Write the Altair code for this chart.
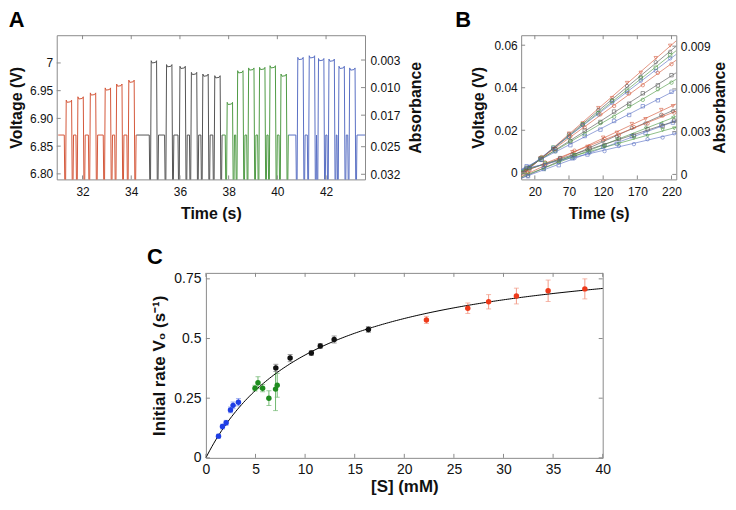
import altair as alt
import pandas as pd

FONT = "Liberation Sans"
FRAME = "#8a8a8a"

# ---------------- Panel A : voltage trace ----------------
A_BASE = 6.87          # resting level between pulses
A_LOW = 6.70           # trace dips below the visible window
A_END = 43.6
a_groups = ["red", "gray", "green", "blue"]
a_colors = ["#d4583a", "#555555", "#4f9a45", "#5a70c4"]
a_start = [31.0, 34.22, 37.75, 40.47]
a_pulse_t = [
    [31.45, 31.93, 32.44, 33.05, 33.52, 34.02],
    [34.94, 35.57, 36.12, 36.59, 37.06, 37.55],
    [38.06, 38.49, 38.94, 39.39, 39.82, 40.27],
    [40.96, 41.43, 41.81, 42.24, 42.65, 43.09],
]
a_pulse_v = [
    [6.933, 6.939, 6.946, 6.955, 6.962, 6.969],
    [7.004, 6.997, 6.994, 6.983, 6.980, 6.977],
    [6.929, 6.986, 6.991, 6.992, 6.995, 6.980],
    [7.010, 7.013, 7.008, 7.007, 6.994, 6.991],
]
a_xticks = [32, 34, 36, 38, 40, 42]
a_yticks = [6.80, 6.85, 6.90, 6.95, 7.00]
a_abs_ticks = [0.003, 0.010, 0.017, 0.025, 0.032]

rows = []
for gi, g in enumerate(a_groups):
    pts = [(a_start[gi], A_BASE)]
    for tc, pv in zip(a_pulse_t[gi], a_pulse_v[gi]):
        pts += [(tc - 0.20, A_BASE), (tc - 0.16, A_LOW), (tc - 0.12, pv),
                (tc - 0.08, pv - 0.004), (tc + 0.06, pv - 0.003), (tc + 0.10, pv),
                (tc + 0.14, A_LOW), (tc + 0.18, A_BASE)]
    end = a_start[gi + 1] if gi + 1 < len(a_groups) else A_END
    pts.append((end, A_BASE))
    for i, (t, v) in enumerate(pts):
        rows.append({"t": t, "v": v, "g": g, "i": i})
dfA = pd.DataFrame(rows)

# ---------------- Panel B : linear progress curves ----------------
b_series = ["K1", "K2", "K3", "K4", "R1", "R2", "R3", "R4",
            "B1", "B2", "B3", "B4", "G1", "G2", "G3", "G4"]
b_colors = ["#111111", "#444444", "#6e6e6e", "#9a9a9a",
            "#b3301c", "#d85a3c", "#e27a60", "#e99a82",
            "#2848c0", "#4a6ad0", "#7090e0", "#1a38a0",
            "#2a8a2a", "#52a252", "#74b474", "#1f7a1f"]
b_shapes = ["triangle-down", "circle", "square", "circle",
            "circle", "square", "circle", "square",
            "triangle-down", "circle", "triangle-left", "square",
            "circle", "square", "triangle-down", "circle"]
b_t_K = [5, 28, 47, 70, 90, 113, 133, 155, 175, 197, 218]
b_t_R = [8, 30, 50, 72, 93, 116, 136, 158, 178, 200, 220]
b_t_B = [10, 33, 55, 75, 97, 120, 140, 162, 182, 205, 222]
b_t_G = [12, 35, 57, 78, 100, 122, 143, 165, 185, 207, 224]
b_times = [b_t_K] * 4 + [b_t_R] * 4 + [b_t_B] * 4 + [b_t_G] * 4
b_vals = [
    [0.0002, 0.0068, 0.0112, 0.0185, 0.0233, 0.0305, 0.0352, 0.0423, 0.0471, 0.0540, 0.0598],
    [0.0000, 0.0070, 0.0112, 0.0181, 0.0226, 0.0296, 0.0341, 0.0408, 0.0452, 0.0520, 0.0569],
    [0.0005, 0.0062, 0.0119, 0.0170, 0.0228, 0.0280, 0.0338, 0.0386, 0.0445, 0.0494, 0.0553],
    [0.0015, 0.0066, 0.0118, 0.0168, 0.0224, 0.0274, 0.0330, 0.0377, 0.0433, 0.0480, 0.0538],
    [0.0016, 0.0074, 0.0113, 0.0172, 0.0213, 0.0275, 0.0314, 0.0373, 0.0412, 0.0470, 0.0511],
    [0.0024, 0.0062, 0.0111, 0.0148, 0.0199, 0.0239, 0.0288, 0.0325, 0.0374, 0.0411, 0.0459],
    [0.0022, 0.0071, 0.0101, 0.0150, 0.0182, 0.0234, 0.0264, 0.0313, 0.0343, 0.0393, 0.0424],
    [0.0031, 0.0061, 0.0102, 0.0130, 0.0173, 0.0203, 0.0244, 0.0272, 0.0313, 0.0341, 0.0381],
    [-0.0002, 0.0034, 0.0060, 0.0098, 0.0123, 0.0166, 0.0189, 0.0230, 0.0253, 0.0296, 0.0314],
    [-0.0014, 0.0026, 0.0050, 0.0086, 0.0110, 0.0151, 0.0171, 0.0211, 0.0232, 0.0273, 0.0290],
    [-0.0004, 0.0017, 0.0053, 0.0070, 0.0106, 0.0127, 0.0160, 0.0179, 0.0213, 0.0233, 0.0262],
    [-0.0016, 0.0018, 0.0036, 0.0068, 0.0086, 0.0122, 0.0137, 0.0172, 0.0187, 0.0223, 0.0236],
    [0.0012, 0.0049, 0.0069, 0.0104, 0.0124, 0.0160, 0.0179, 0.0215, 0.0232, 0.0269, 0.0283],
    [0.0021, 0.0038, 0.0069, 0.0083, 0.0115, 0.0130, 0.0160, 0.0175, 0.0205, 0.0220, 0.0245],
    [0.0018, 0.0046, 0.0057, 0.0084, 0.0096, 0.0124, 0.0135, 0.0163, 0.0173, 0.0201, 0.0209],
    [0.0027, 0.0037, 0.0062, 0.0069, 0.0094, 0.0102, 0.0126, 0.0135, 0.0158, 0.0166, 0.0186],
]
b_xticks = [20, 70, 120, 170, 220]
b_yticks = [0, 0.02, 0.04, 0.06]
b_abs_ticks = [0, 0.003, 0.006, 0.009]

rowsB = []
for s, shp, ts, vs in zip(b_series, b_shapes, b_times, b_vals):
    for t, v in zip(ts, vs):
        rowsB.append({"t": t, "v": v, "s": s, "m": shp})
dfB = pd.DataFrame(rowsB)

# ---------------- Panel C : Michaelis-Menten ----------------
c_groups = ["blue", "green", "black", "red"]
c_point_colors = ["#1e3ee6", "#1e8c1e", "#111111", "#ee3a1a"]
c_bar_colors = ["#7088e8", "#72b872", "#777777", "#f29a86"]
c_s = [
    [1.27, 1.67, 2.04, 2.48, 2.74, 3.28],
    [4.95, 5.25, 5.72, 6.35, 7.02, 7.19],
    [7.05, 8.49, 10.63, 11.53, 12.93, 16.38],
    [22.23, 26.4, 28.5, 31.3, 34.5, 38.2],
]
c_v = [
    [0.091, 0.131, 0.147, 0.201, 0.220, 0.233],
    [0.292, 0.315, 0.292, 0.250, 0.288, 0.304],
    [0.377, 0.418, 0.439, 0.469, 0.496, 0.538],
    [0.578, 0.627, 0.654, 0.678, 0.700, 0.708],
]
c_err = [
    [0.008, 0.010, 0.010, 0.012, 0.014, 0.015],
    [0.012, 0.025, 0.015, 0.031, 0.090, 0.050],
    [0.015, 0.015, 0.010, 0.010, 0.015, 0.012],
    [0.015, 0.022, 0.030, 0.033, 0.045, 0.042],
]
C_VMAX = 0.905   # fitted maximal rate (s^-1)
C_KM = 11.0      # fitted Km (mM)
c_xticks = [0, 5, 10, 15, 20, 25, 30, 35, 40]
c_yticks = [0, 0.25, 0.5, 0.75]

rowsC = []
for g, ss, vv, ee in zip(c_groups, c_s, c_v, c_err):
    for s, v, e in zip(ss, vv, ee):
        rowsC.append({"s": s, "r": v, "lo": v - e, "hi": v + e, "g": g})
dfC = pd.DataFrame(rowsC)

# =============== build panel A ===============
WA, HA = 310, 145
lab12 = dict(labelFontSize=12, titleFontSize=16, titleFontWeight="bold")
xA = alt.X("t:Q", scale=alt.Scale(domain=[30.94, 43.6], nice=False, zero=False),
           axis=alt.Axis(values=a_xticks, title="Time (s)", labelPadding=7, titlePadding=8, **lab12))
yA = alt.Y("v:Q", scale=alt.Scale(domain=[6.79, 7.05], nice=False, zero=False),
           axis=alt.Axis(values=a_yticks, title="Voltage (V)", labelPadding=4, titlePadding=5,
                         labelExpr="datum.value == 7 ? '7' : format(datum.value, '.2f')", **lab12))
traceA = alt.Chart(dfA).mark_line(strokeWidth=1, clip=True).encode(
    x=xA, y=yA, detail="g:N", order="i:Q",
    color=alt.Color("g:N", scale=alt.Scale(domain=a_groups, range=a_colors), legend=None))
tickA_l = alt.Chart(pd.DataFrame({"v": a_yticks})).mark_rule(color=FRAME).encode(
    y=yA, x=alt.value(0), x2=alt.value(4))
tickA_t = alt.Chart(pd.DataFrame({"t": a_xticks})).mark_rule(color=FRAME).encode(
    x=xA, y=alt.value(0), y2=alt.value(4))
tickA_b = alt.Chart(pd.DataFrame({"t": a_xticks})).mark_rule(color=FRAME).encode(
    x=xA, y=alt.value(HA - 4), y2=alt.value(HA))
yAabs = alt.Y("a:Q", scale=alt.Scale(domain=[-0.0033, 0.0333], reverse=True, nice=False, zero=False),
              axis=alt.Axis(orient="right", values=a_abs_ticks, format=".3f", title="Absorbance",
                            titleAngle=270, titleBaseline="top", labelPadding=5, titlePadding=8, **lab12))
absA = alt.Chart(pd.DataFrame({"a": a_abs_ticks})).mark_rule(color=FRAME).encode(
    y=yAabs, x=alt.value(WA - 4), x2=alt.value(WA))
panelA = alt.layer(alt.layer(traceA, tickA_l, tickA_t, tickA_b), absA).resolve_scale(
    y="independent").properties(width=WA, height=HA, title=alt.Title("A", offset=3))

# =============== build panel B ===============
WB, HB = 156, 145
xB = alt.X("t:Q", scale=alt.Scale(domain=[0, 227], nice=False, zero=False),
           axis=alt.Axis(values=b_xticks, title="Time (s)", labelPadding=7, titlePadding=8, **lab12))
yB = alt.Y("v:Q", scale=alt.Scale(domain=[-0.0031, 0.0647], nice=False, zero=False),
           axis=alt.Axis(values=b_yticks, title="Voltage (V)", labelPadding=4, titlePadding=7,
                         format=".2~f", **lab12))
colB = alt.Color("s:N", scale=alt.Scale(domain=b_series, range=b_colors), legend=None)
linesB = alt.Chart(dfB).transform_regression("t", "v", groupby=["s"], extent=[0, 227]).mark_line(
    strokeWidth=0.8, opacity=0.8, clip=True).encode(x=xB, y=yB, color=colB)
ptsB = alt.Chart(dfB).mark_point(filled=False, size=12, strokeWidth=0.7, opacity=0.85).encode(
    x=xB, y=yB, color=colB, shape=alt.Shape("m:N", scale=None))
tickB_l = alt.Chart(pd.DataFrame({"v": b_yticks})).mark_rule(color=FRAME).encode(
    y=yB, x=alt.value(0), x2=alt.value(4))
tickB_t = alt.Chart(pd.DataFrame({"t": b_xticks})).mark_rule(color=FRAME).encode(
    x=xB, y=alt.value(0), y2=alt.value(4))
tickB_b = alt.Chart(pd.DataFrame({"t": b_xticks})).mark_rule(color=FRAME).encode(
    x=xB, y=alt.value(HB - 4), y2=alt.value(HB))
yBabs = alt.Y("a:Q", scale=alt.Scale(domain=[-0.00035, 0.00977], nice=False, zero=False),
              axis=alt.Axis(orient="right", values=b_abs_ticks, title="Absorbance", format=".3~f",
                            titleAngle=270, titleBaseline="top", labelPadding=4, titlePadding=1, **lab12))
absB = alt.Chart(pd.DataFrame({"a": b_abs_ticks})).mark_rule(color=FRAME).encode(
    y=yBabs, x=alt.value(WB - 4), x2=alt.value(WB))
panelB = alt.layer(alt.layer(linesB, ptsB, tickB_l, tickB_t, tickB_b), absB).resolve_scale(
    y="independent").properties(width=WB, height=HB, title=alt.Title("B", offset=3, dx=-16))

# =============== build panel C ===============
WC, HC = 399, 186
lab14 = dict(labelFontSize=14, titleFontSize=17, titleFontWeight="bold")
ytitleC = "Initial rate V₀ (s⁻¹)"
xC = alt.X("s:Q", scale=alt.Scale(domain=[0, 40], nice=False, zero=False),
           axis=alt.Axis(values=c_xticks, title="[S] (mM)", labelPadding=5, titlePadding=2, **lab14))
axC = alt.Axis(values=c_yticks, title=ytitleC, format=".2~f", labelPadding=5, titlePadding=5, **lab14)
scC = alt.Scale(domain=[0, 0.775], nice=False, zero=False)
yC = alt.Y("r:Q", scale=scC, axis=axC)
colBar = alt.Color("g:N", scale=alt.Scale(domain=c_groups, range=c_bar_colors), legend=None)
colPt = alt.Color("g:N", scale=alt.Scale(domain=c_groups, range=c_point_colors), legend=None)
barsC = alt.Chart(dfC).mark_rule(strokeWidth=1).encode(
    x=xC, y=alt.Y("lo:Q", scale=scC, axis=axC), y2="hi:Q", color=colBar)
capLo = alt.Chart(dfC).mark_tick(orient="horizontal", size=5, thickness=1).encode(
    x=xC, y=alt.Y("lo:Q", scale=scC, axis=axC), color=colBar)
capHi = alt.Chart(dfC).mark_tick(orient="horizontal", size=5, thickness=1).encode(
    x=xC, y=alt.Y("hi:Q", scale=scC, axis=axC), color=colBar)
curveC = alt.Chart(alt.sequence(0, 40.05, 0.2, as_="s")).transform_calculate(
    r=f"{C_VMAX} * datum.s / ({C_KM} + datum.s)").mark_line(color="black", strokeWidth=1).encode(
    x=xC, y=yC)
ptsC = alt.Chart(dfC).mark_circle(size=30, opacity=1).encode(x=xC, y=yC, color=colPt)
tickC_l = alt.Chart(pd.DataFrame({"r": c_yticks})).mark_rule(color=FRAME).encode(
    y=yC, x=alt.value(0), x2=alt.value(4))
tickC_r = alt.Chart(pd.DataFrame({"r": c_yticks})).mark_rule(color=FRAME).encode(
    y=yC, x=alt.value(WC - 4), x2=alt.value(WC))
tickC_t = alt.Chart(pd.DataFrame({"s": c_xticks})).mark_rule(color=FRAME).encode(
    x=xC, y=alt.value(0), y2=alt.value(4))
tickC_b = alt.Chart(pd.DataFrame({"s": c_xticks})).mark_rule(color=FRAME).encode(
    x=xC, y=alt.value(HC - 4), y2=alt.value(HC))
panelC = alt.layer(barsC, capLo, capHi, curveC, ptsC, tickC_l, tickC_r, tickC_t, tickC_b).resolve_scale(
    color="independent").properties(width=WC, height=HC, title=alt.Title("C", offset=3, dx=-4))

spacer = alt.Chart(pd.DataFrame({"z": [0]})).mark_point(opacity=0).encode(
    x=alt.X("z:Q", axis=None), y=alt.Y("z:Q", axis=None)).properties(
    width=1, height=HC, view=alt.ViewBackground(stroke="transparent"))

top = alt.hconcat(panelA, panelB, spacing=157, bounds="flush")
bottom = alt.hconcat(spacer, panelC, spacing=149, bounds="flush")
chart = alt.vconcat(top, bottom, spacing=23).properties(
    padding={"top": -1, "left": 0, "right": 0, "bottom": 0}, background="white"
).configure_axis(
    labelFont=FONT, titleFont=FONT, labelColor="#111", titleColor="#111", grid=False,
    domain=False, ticks=False, labelFlush=False, labelOverlap=False
).configure_view(stroke=FRAME, strokeWidth=1).configure_title(
    font=FONT, fontSize=22, fontWeight="bold", anchor="start", frame="bounds", color="#000"
)

chart.save("out.html", embed_options={"renderer": "svg", "actions": False})
